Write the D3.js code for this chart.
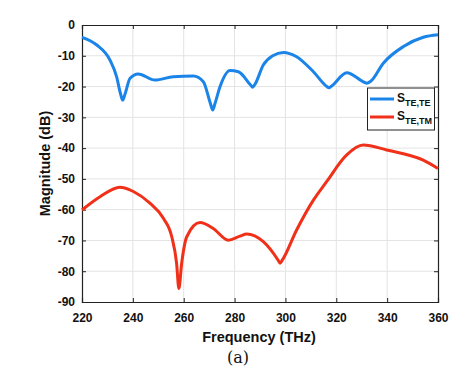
<!DOCTYPE html>
<html><head><meta charset="utf-8">
<script src="https://cdn.jsdelivr.net/npm/d3@7"></script>
<style>body{margin:0;background:#fff;}svg{display:block;}</style>
</head><body>
<svg id="c" width="474" height="371"></svg>
<script>
const xTicks = [220,240,260,280,300,320,340,360];
const yTicks = [0,-10,-20,-30,-40,-50,-60,-70,-80,-90];
const teFreq = [220,225.8,231,233.6,235.2,236,236.9,238.9,242.1,248.7,255.9,263.8,267.7,270.5,271.4,272.3,274.3,278.2,281.5,286.3,287.1,288,291.3,295,299.2,304.4,311,316.3,317.1,318.2,324.1,331,332,333.5,338.5,346.4,354.2,360];
const teVal  = [-4.0,-6.5,-11.4,-16.8,-22.5,-24.4,-22.5,-17.3,-15.9,-17.9,-16.8,-16.6,-18.4,-25.5,-27.6,-25.5,-20,-14.8,-15.2,-19.5,-20.2,-19.3,-13,-10,-8.9,-10.3,-15.2,-20,-20.4,-19.8,-15.5,-18.6,-18.9,-18.3,-12.4,-7,-4,-3.2];
const tmFreq = [220,227.1,234.9,240.2,246.7,252,255.3,257.2,258.1,259.2,261.2,266.4,271.6,277.5,282.1,284.8,291.3,297.2,297.9,298.7,304.4,311,316.2,324.1,330.6,339.8,354.2,360];
const tmVal  = [-60.1,-55.8,-52.7,-54.1,-57.9,-62.8,-68.8,-77.4,-85.6,-77.4,-68.8,-64.2,-66.1,-69.9,-68.6,-67.9,-70.4,-76.5,-77.4,-76.5,-66.6,-56.9,-50.9,-42.2,-39,-40.6,-43.9,-46.6];
const seriesNames = ["TE,TE","TE,TM"];
const seriesColors = ["#1a84e8","#f03018"];

const svg = d3.select("#c");
const m = {l:82, t:25, r:438, b:302};
const x = d3.scaleLinear().domain([220,360]).range([m.l,m.r]);
const y = d3.scaleLinear().domain([-90,0]).range([m.b,m.t]);
const font = "Arial, 'Liberation Sans', sans-serif";
const fmt = d => String(d);

// grid
svg.append("g").selectAll("line").data(xTicks.slice(1,-1)).join("line")
  .attr("x1",d=>x(d)).attr("x2",d=>x(d)).attr("y1",m.t).attr("y2",m.b)
  .attr("stroke","#e3e3e3").attr("stroke-width",1);
svg.append("g").selectAll("line").data(yTicks.slice(1,-1)).join("line")
  .attr("y1",d=>y(d)).attr("y2",d=>y(d)).attr("x1",m.l).attr("x2",m.r)
  .attr("stroke","#e3e3e3").attr("stroke-width",1);

// axes
const xa = svg.append("g").attr("transform",`translate(0,${m.b})`)
  .call(d3.axisBottom(x).tickValues(xTicks).tickSize(-4).tickPadding(11).tickFormat(fmt));
const ya = svg.append("g").attr("transform",`translate(${m.l},0)`)
  .call(d3.axisLeft(y).tickValues(yTicks).tickSize(-4).tickPadding(7).tickFormat(fmt));
svg.append("g").attr("transform",`translate(0,${m.t})`)
  .call(d3.axisTop(x).tickValues(xTicks).tickSize(-4).tickFormat(""));
svg.append("g").attr("transform",`translate(${m.r},0)`)
  .call(d3.axisRight(y).tickValues(yTicks).tickSize(-4).tickFormat(""));
svg.selectAll(".domain").attr("stroke","#222").attr("stroke-width",1.2);
svg.selectAll(".tick line").attr("stroke","#222");
[xa,ya].forEach(a=>a.selectAll("text").attr("font-family",font).attr("font-size",12)
  .attr("font-weight","bold").attr("fill","#111"));

// lines
const line = d3.line().x(d=>x(d[0])).y(d=>y(d[1])).curve(d3.curveMonotoneX);
const te = teFreq.map((f,i)=>[f,teVal[i]]);
const tm = tmFreq.map((f,i)=>[f,tmVal[i]]);
[te,tm].forEach((s,i)=>svg.append("path").datum(s).attr("d",line)
  .attr("fill","none").attr("stroke",seriesColors[i]).attr("stroke-width",3)
  .attr("stroke-linejoin","round"));

// labels
svg.append("text").attr("x",259).attr("y",342).attr("text-anchor","middle")
  .attr("font-family",font).attr("font-size",14.5).attr("font-weight","bold").attr("fill","#111")
  .text("Frequency (THz)");
svg.append("text").attr("transform",`translate(50,${(m.t+m.b)/2}) rotate(-90)`).attr("text-anchor","middle")
  .attr("font-family",font).attr("font-size",14.5).attr("font-weight","bold").attr("fill","#111")
  .text("Magnitude (dB)");
svg.append("text").attr("x",238).attr("y",363).attr("text-anchor","middle")
  .attr("font-family","'DejaVu Serif', serif").attr("font-size",16).attr("fill","#111")
  .text("(a)");

// legend
const lg = svg.append("g");
lg.append("rect").attr("x",367.5).attr("y",88).attr("width",67).attr("height",42)
  .attr("fill","#fff").attr("stroke","#222").attr("stroke-width",1);
seriesNames.forEach((n,i)=>{
  const yy = 99 + i*18;
  lg.append("line").attr("x1",370).attr("x2",394).attr("y1",yy).attr("y2",yy)
    .attr("stroke",seriesColors[i]).attr("stroke-width",3);
  const t = lg.append("text").attr("x",397).attr("y",yy+3).attr("font-family",font)
    .attr("font-weight","bold").attr("font-size",12).attr("fill","#111");
  t.append("tspan").text("S");
  t.append("tspan").attr("dy",4).attr("font-size",9).text(n);
});
</script>
</body></html>
